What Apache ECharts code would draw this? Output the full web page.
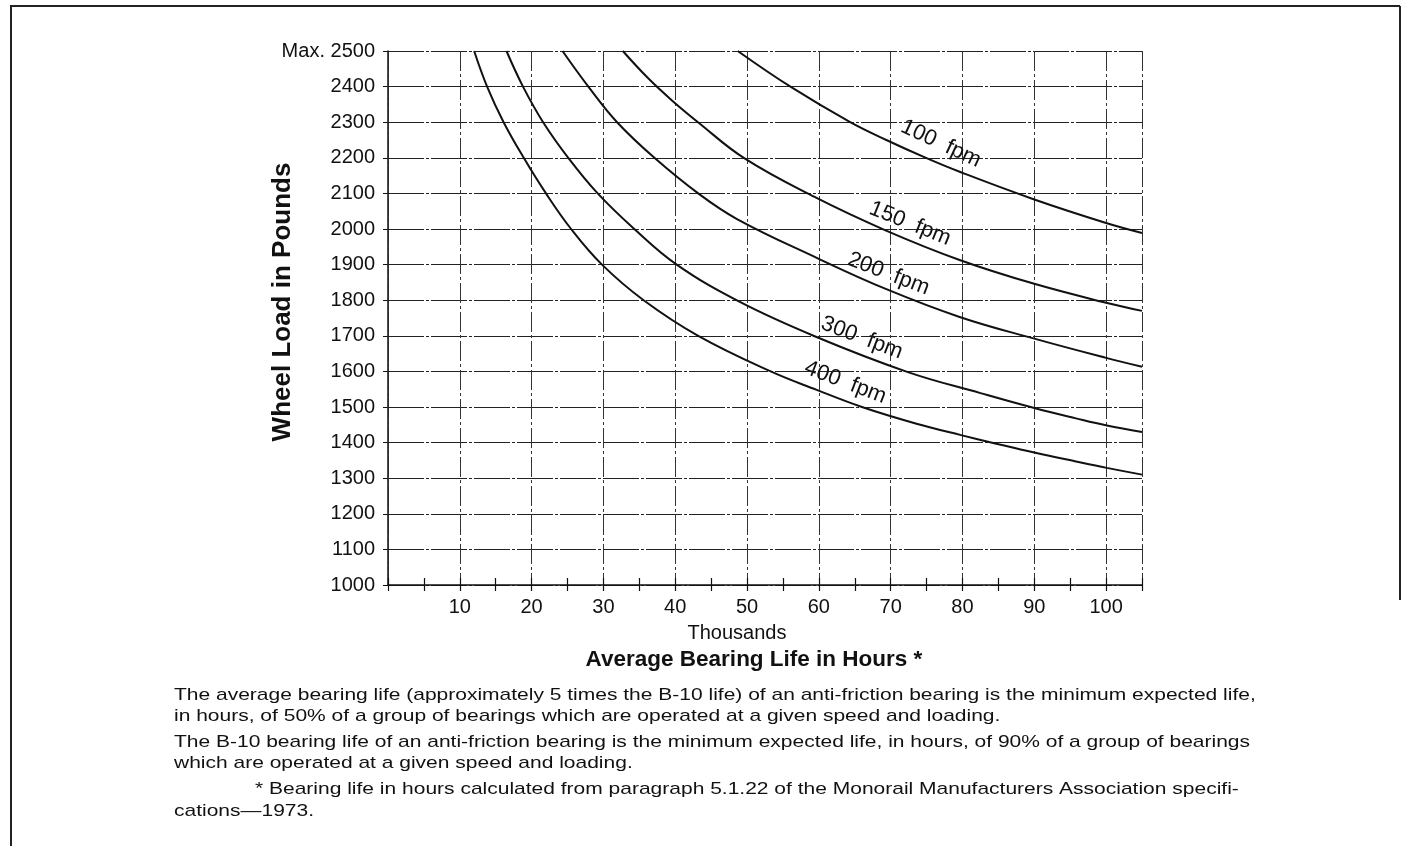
<!DOCTYPE html>
<html>
<head>
<meta charset="utf-8">
<script src="https://cdn.jsdelivr.net/npm/echarts@6/dist/echarts.min.js"></script>
<style>
html,body{margin:0;padding:0;background:#fff;}
#c{width:1402px;height:846px;}
</style>
</head>
<body>
<div id="c"></div>
<script>
// ---- Data (x: average bearing life, thousands of hours; y: wheel load, lb) ----
const curve100 = [[48.7,2500],[56.1,2399],[64.3,2301],[69.4,2250],[75.0,2199],[79.7,2160],[90.0,2083],[100.0,2017],[105.0,1989]];
const curve150 = [[32.7,2500],[36.2,2424],[39.5,2362],[43.3,2298],[49.6,2199],[59.4,2090],[69.2,1997],[79.6,1913],[90.0,1846],[100.0,1793],[105.0,1770]];
const curve200 = [[24.3,2500],[27.9,2400],[31.9,2300],[37.1,2200],[43.2,2100],[48.6,2028],[59.7,1919],[69.4,1831],[79.6,1753],[90.0,1692],[100.0,1638],[105.0,1613]];
const curve300 = [[16.5,2500],[18.8,2400],[21.6,2300],[25.1,2200],[29.2,2100],[34.3,2000],[40.2,1900],[49.0,1795],[59.5,1698],[72.4,1598],[82.5,1539],[90.0,1497],[95.8,1468],[100.1,1448],[105.0,1430]];
const curve400 = [[12.0,2500],[13.8,2400],[16.1,2300],[18.9,2200],[22.0,2100],[25.5,2000],[29.8,1900],[35.6,1800],[43.2,1700],[53.3,1600],[59.7,1548],[66.0,1500],[73.6,1453],[79.8,1421],[84.7,1397],[90.0,1372],[95.8,1347],[100.1,1329],[105.0,1310]];
const speedNames = ['100  fpm','150  fpm','200  fpm','300  fpm','400  fpm'];
const labelCoords = [[77.0,2240],[72.7,2015],[69.7,1874],[66.0,1694],[63.7,1569]];
const labelRotations = [-25,-22,-21,-21,-21];
const xTickLabels = [10,20,30,40,50,60,70,80,90,100];
const yTopLabel = 'Max. 2500';
const yAxisTitle = 'Wheel Load in Pounds';
const xAxisUnit = 'Thousands';
const xAxisTitle = 'Average Bearing Life in Hours *';
const footnotes = [
  'The average bearing life (approximately 5 times the B-10 life) of an anti-friction bearing is the minimum expected life,',
  'in hours, of 50% of a group of bearings which are operated at a given speed and loading.',
  'The B-10 bearing life of an anti-friction bearing is the minimum expected life, in hours, of 90% of a group of bearings',
  'which are operated at a given speed and loading.',
  '* Bearing life in hours calculated from paragraph 5.1.22 of the Monorail Manufacturers Association specifi-',
  'cations\u20141973.'
];

const curves = [curve100, curve150, curve200, curve300, curve400];
const FONT = '"Liberation Sans", Arial, Helvetica, sans-serif';

const chart = echarts.init(document.getElementById('c'), null, {renderer:'canvas'});

const series = curves.map((c, i) => ({
  type: 'line',
  data: c,
  smooth: 0.4,
  showSymbol: false,
  symbol: 'none',
  lineStyle: {color: '#111', width: 2},
  z: 5,
  markPoint: {
    symbol: 'circle',
    symbolSize: 0,
    data: [{coord: labelCoords[i], value: speedNames[i]}],
    label: {
      show: true,
      position: 'inside',
      formatter: speedNames[i],
      rotate: labelRotations[i],
      color: '#111',
      fontFamily: FONT,
      fontSize: 22
    }
  }
}));

const footY = [695, 716, 742, 763, 789, 811];
const footX = [174, 174, 174, 174, 255, 174];
const graphics = footnotes.map((t, i) => ({
  type: 'text',
  x: footX[i],
  y: footY[i],
  scaleX: 1.235,
  style: {text: t, fill: '#111', font: '17px ' + FONT, align: 'left', verticalAlign: 'middle'}
}));
// axis titles
graphics.push({
  type: 'text', x: 283, y: 302, rotation: Math.PI / 2,
  style: {text: yAxisTitle, fill: '#111', font: 'bold 26px ' + FONT, align: 'center', verticalAlign: 'middle'}
});
graphics.push({
  type: 'text', x: 737, y: 633,
  style: {text: xAxisUnit, fill: '#111', font: '20px ' + FONT, align: 'center', verticalAlign: 'middle'}
});
graphics.push({
  type: 'text', x: 754, y: 660,
  style: {text: xAxisTitle, fill: '#111', font: 'bold 22.5px ' + FONT, align: 'center', verticalAlign: 'middle'}
});
// page frame
graphics.push({type:'line', shape:{x1:10, y1:6, x2:1400, y2:6}, style:{stroke:'#222', lineWidth:2}});
graphics.push({type:'line', shape:{x1:11, y1:6, x2:11, y2:846}, style:{stroke:'#222', lineWidth:2}});
graphics.push({type:'line', shape:{x1:1400, y1:6, x2:1400, y2:600}, style:{stroke:'#222', lineWidth:2}});

const option = {
  backgroundColor: '#fff',
  animation: false,
  grid: {left: 388, right: 260, top: 51, bottom: 261, containLabel: false},
  xAxis: [
    {
      type: 'value', min: 0, max: 105, interval: 10,
      axisLine: {show: true, lineStyle: {color: '#111', width: 1.5}},
      axisTick: {show: false},
      axisLabel: {
        margin: 12, color: '#111', fontFamily: FONT, fontSize: 20,
        formatter: v => (xTickLabels.indexOf(v) >= 0 ? String(v) : '')
      },
      splitLine: {show: true, lineStyle: {color: '#333', width: 1, type: [20, 3, 3, 3]}}
    },
    {
      type: 'value', min: 0, max: 105, interval: 5, position: 'bottom',
      axisLine: {show: false},
      axisTick: {show: true, inside: true, length: 7, lineStyle: {color: '#111', width: 1.2}},
      axisLabel: {show: false}, splitLine: {show: false}
    },
    {
      type: 'value', min: 0, max: 105, interval: 5, position: 'bottom',
      axisLine: {show: false},
      axisTick: {show: true, inside: false, length: 6, lineStyle: {color: '#111', width: 1.2}},
      axisLabel: {show: false}, splitLine: {show: false}
    }
  ],
  yAxis: [
    {
      type: 'value', min: 1000, max: 2500, interval: 100,
      axisLine: {show: true, lineStyle: {color: '#888', width: 1, type: 'dotted'}},
      axisTick: {show: true, length: 5, lineStyle: {color: '#111'}},
      axisLabel: {
        margin: 13, color: '#111', fontFamily: FONT, fontSize: 20,
        formatter: v => (v === 2500 ? yTopLabel : String(v))
      },
      splitLine: {show: true, lineStyle: {color: '#222', width: 1.2, type: [36, 2, 3, 2]}}
    },
    {
      type: 'value', min: 1000, max: 2500, interval: 100, position: 'right',
      axisLine: {show: true, lineStyle: {color: '#111', width: 1.5}},
      axisTick: {show: false}, axisLabel: {show: false}, splitLine: {show: false}
    }
  ],
  series: series,
  graphic: graphics
};
chart.setOption(option);
</script>
</body>
</html>
